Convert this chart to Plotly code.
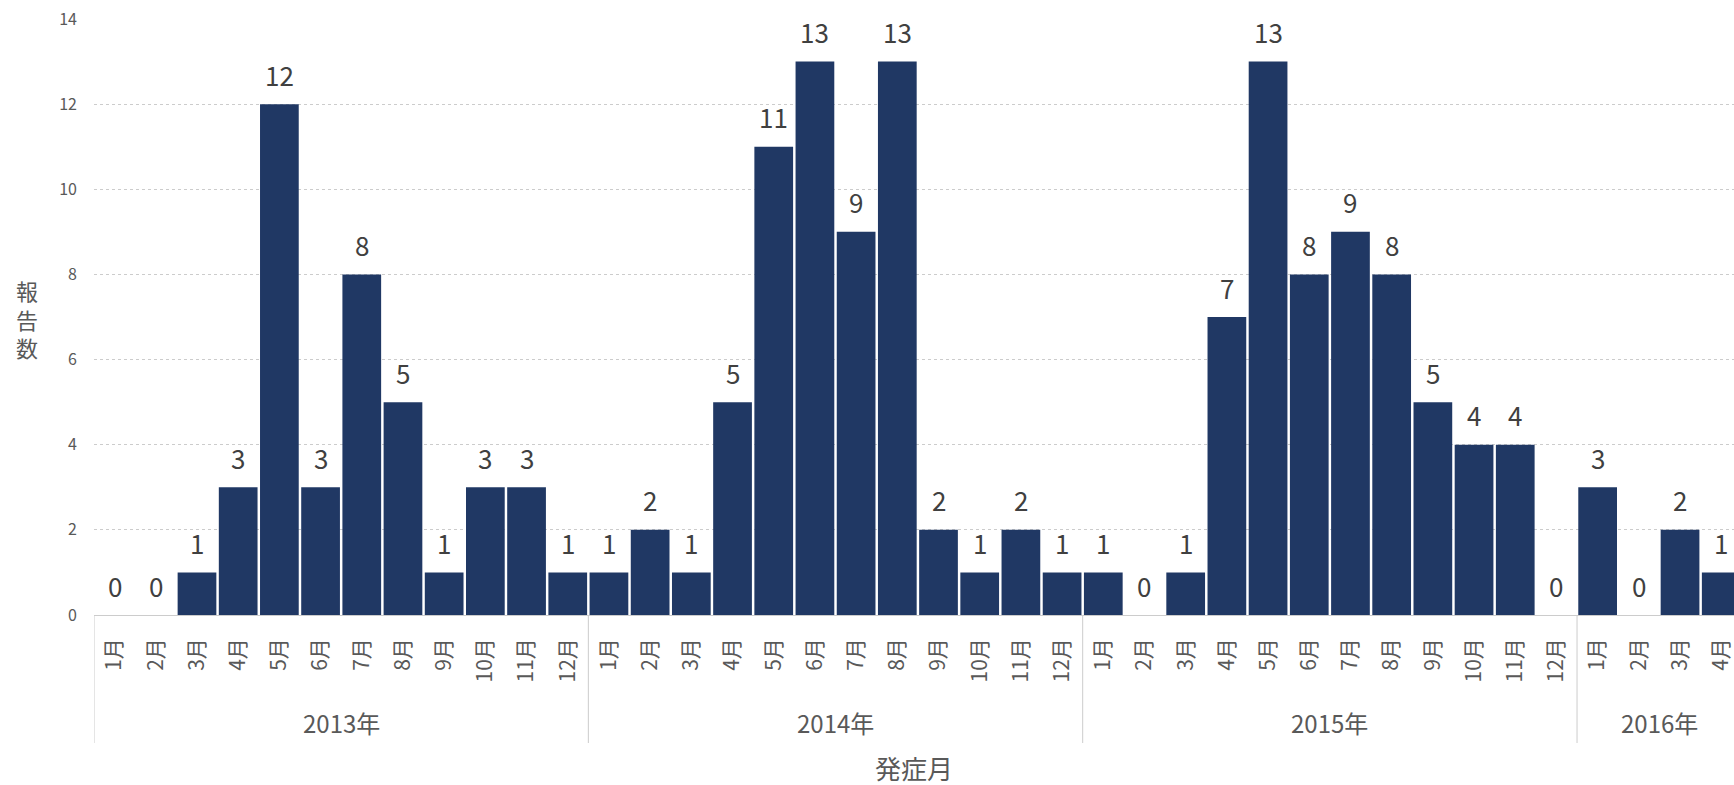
import plotly.graph_objects as go

years = ["2013年", "2014年", "2015年", "2016年"]
months = ["1月", "2月", "3月", "4月", "5月", "6月", "7月", "8月", "9月", "10月", "11月", "12月"]
counts_2013 = [0, 0, 1, 3, 12, 3, 8, 5, 1, 3, 3, 1]
counts_2014 = [1, 2, 1, 5, 11, 13, 9, 13, 2, 1, 2, 1]
counts_2015 = [1, 0, 1, 7, 13, 8, 9, 8, 5, 4, 4, 0]
counts_2016 = [3, 0, 2, 1]

series = [counts_2013, counts_2014, counts_2015, counts_2016]
keys, mlabels, values, year_pos = [], [], [], []
for y, vals in zip(years, series):
    start = len(keys)
    for m, v in zip(months, vals):
        keys.append(y + m)
        mlabels.append(m)
        values.append(v)
    year_pos.append((start, len(keys)))

FONT = "Noto Sans CJK JP, Noto Sans, sans-serif"
GRAY = "#595959"
BAR = "#203864"
LINE = "#cccccc"

fig = go.Figure()
fig.add_trace(go.Bar(x=keys, y=values, marker=dict(color=BAR, line=dict(width=0)),
                     hoverinfo="x+y"))

W, H = 1734, 785
top, bottom, left = 19, 615, 94
ph = bottom - top

def py(px):
    return (bottom - px) / ph

annotations = []
for k, v in zip(keys, values):
    annotations.append(dict(x=k, y=v, xref="x", yref="y", text=str(v), showarrow=False,
                            yanchor="middle", yshift=30,
                            font=dict(family=FONT, size=26, color="#404040")))

shapes = []
for (s, e), y in zip(year_pos, years):
    annotations.append(dict(x=(s + e - 1) / 2, y=py(722), xref="x", yref="paper", text=y,
                            showarrow=False, yanchor="middle",
                            font=dict(family=FONT, size=24, color=GRAY)))
    shapes.append(dict(type="line", xref="x", yref="paper", x0=s - 0.5, x1=s - 0.5,
                       y0=0, y1=py(743), line=dict(color=LINE, width=1)))

annotations.append(dict(x=0.5, y=py(767), xref="paper", yref="paper", text="発症月",
                        showarrow=False, yanchor="middle",
                        font=dict(family=FONT, size=26, color=GRAY)))
annotations.append(dict(x=-(left - 27) / (W - left), y=py(318), xref="paper", yref="paper",
                        text="<br>".join("報告数"), showarrow=False,
                        xanchor="center", yanchor="middle",
                        font=dict(family=FONT, size=22, color=GRAY)))

fig.update_layout(
    width=W, height=H,
    margin=dict(l=left, r=0, t=top, b=H - bottom, pad=0),
    plot_bgcolor="white", paper_bgcolor="white",
    bargap=0.06, showlegend=False,
    annotations=annotations, shapes=shapes,
    xaxis=dict(type="category", range=[-0.5, 39.31], tickvals=keys, ticktext=mlabels,
               tickangle=-90, tickfont=dict(family=FONT, size=21, color=GRAY),
               ticks="", ticklabelstandoff=18, showgrid=False, showline=False,
               zeroline=False, fixedrange=True),
    yaxis=dict(range=[0, 14], dtick=2, tickfont=dict(family=FONT, size=16, color=GRAY),
               showgrid=True, gridcolor=LINE, griddash="dot", gridwidth=1,
               zeroline=True, zerolinecolor=LINE, zerolinewidth=1,
               showline=False, ticks="", ticklabelstandoff=16),
)

fig.write_html("out.html")
